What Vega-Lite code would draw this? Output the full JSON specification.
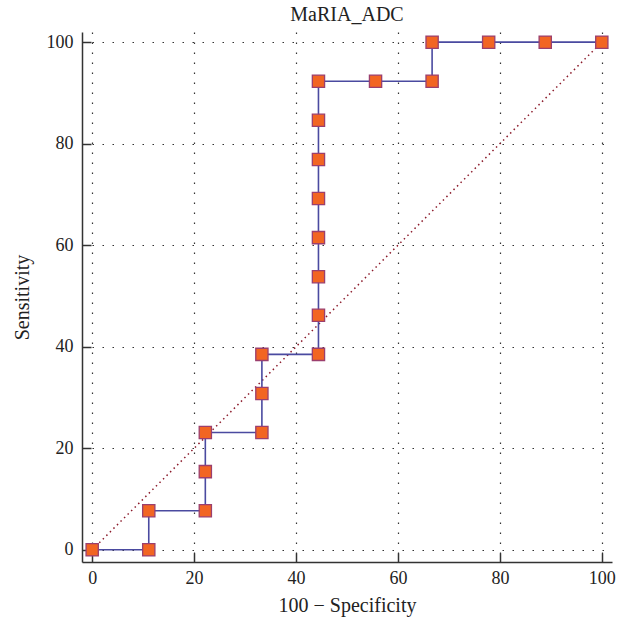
{
  "$schema": "https://vega.github.io/schema/vega-lite/v6.json",
  "width": 530,
  "height": 530,
  "autosize": "none",
  "padding": {"left": 82, "top": 32, "right": 15, "bottom": 64},
  "background": "white",
  "title": {"text": "MaRIA_ADC", "font": "Liberation Serif", "fontSize": 20, "fontWeight": "normal", "color": "#222", "offset": 7},
  "config": {
    "view": {"stroke": null},
    "axis": {
      "labelFont": "Liberation Serif",
      "titleFont": "Liberation Serif",
      "labelFontSize": 18,
      "titleFontSize": 20,
      "titleFontWeight": "normal",
      "labelColor": "#222",
      "titleColor": "#222",
      "domainColor": "#333",
      "domainWidth": 1.5,
      "tickColor": "#333",
      "tickWidth": 1.5,
      "gridColor": "#333",
      "gridDash": [1.5, 8.5],
      "gridWidth": 1.2,
      "gridOpacity": 1
    }
  },
  "data": {"values": [
    {"fpr": 0, "tpr": 0},
    {"fpr": 11.1, "tpr": 0},
    {"fpr": 11.1, "tpr": 7.7},
    {"fpr": 22.2, "tpr": 7.7},
    {"fpr": 22.2, "tpr": 15.4},
    {"fpr": 22.2, "tpr": 23.1},
    {"fpr": 33.3, "tpr": 23.1},
    {"fpr": 33.3, "tpr": 30.8},
    {"fpr": 33.3, "tpr": 38.5},
    {"fpr": 44.4, "tpr": 38.5},
    {"fpr": 44.4, "tpr": 46.2},
    {"fpr": 44.4, "tpr": 53.8},
    {"fpr": 44.4, "tpr": 61.5},
    {"fpr": 44.4, "tpr": 69.2},
    {"fpr": 44.4, "tpr": 76.9},
    {"fpr": 44.4, "tpr": 84.6},
    {"fpr": 44.4, "tpr": 92.3},
    {"fpr": 55.6, "tpr": 92.3},
    {"fpr": 66.7, "tpr": 92.3},
    {"fpr": 66.7, "tpr": 100},
    {"fpr": 77.8, "tpr": 100},
    {"fpr": 88.9, "tpr": 100},
    {"fpr": 100, "tpr": 100}
  ]},
  "encoding": {
    "x": {"field": "fpr", "type": "quantitative",
      "scale": {"domain": [-2, 102], "nice": false, "zero": false},
      "axis": {"title": "100 − Specificity", "values": [0, 20, 40, 60, 80, 100], "tickSize": -9, "labelPadding": 16, "titlePadding": 8}},
    "y": {"field": "tpr", "type": "quantitative",
      "scale": {"domain": [-2.4, 102], "nice": false, "zero": false},
      "axis": {"title": "Sensitivity", "values": [0, 20, 40, 60, 80, 100], "tickSize": -9, "labelPadding": 18, "titlePadding": 14}}
  },
  "layer": [
    {
      "data": {"values": [{"fpr": 0, "tpr": 0}, {"fpr": 100, "tpr": 100}]},
      "mark": {"type": "line", "color": "#8B1A2A", "strokeWidth": 1.5, "strokeDash": [1.5, 3.5]}
    },
    {
      "mark": {"type": "line", "color": "#4A4AA0", "strokeWidth": 1.6}
    },
    {
      "mark": {"type": "point", "shape": "square", "filled": true, "size": 150, "fill": "#F26522", "stroke": "#9B3F6E", "strokeWidth": 1.3, "opacity": 1}
    }
  ]
}
